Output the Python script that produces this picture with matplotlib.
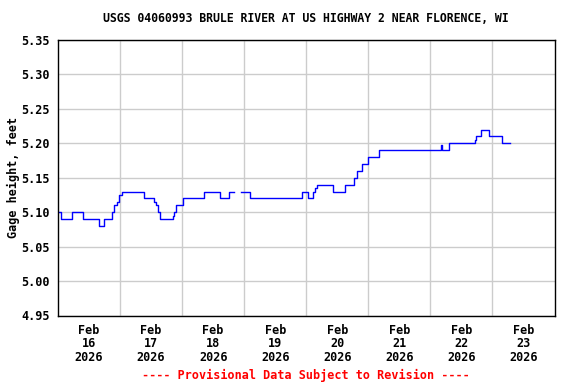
import numpy as np
import matplotlib.pyplot as plt

# hours since Feb 16 2026 00:00, value holds until next time
hours = [0.0, 1.2, 5.3, 9.5, 15.7, 17.9, 20.7, 21.8, 22.8, 23.6, 24.6,
         33.1, 37.3, 38.0, 38.6, 39.6, 44.4, 45.0, 45.7, 48.2,
         56.6, 62.8, 66.3, 68.2, 70.7, 74.4,
         94.4, 96.6, 98.5, 99.2, 100.0,
         106.3, 110.8, 114.4, 115.6, 117.5, 119.8, 124.3,
         148.2, 148.5, 151.2, 161.1, 161.8, 163.4, 166.5, 171.7, 174.7]
gage = [5.10, 5.09, 5.10, 5.09, 5.08, 5.09, 5.10, 5.11, 5.115, 5.125, 5.13,
        5.12, 5.115, 5.11, 5.10, 5.09, 5.095, 5.10, 5.11, 5.12,
        5.13, 5.12, 5.13, np.nan, 5.13, 5.12,
        5.13, 5.12, 5.13, 5.135, 5.14,
        5.13, 5.14, 5.15, 5.16, 5.17, 5.18, 5.19,
        5.197, 5.19, 5.20, 5.205, 5.21, 5.22, 5.21, 5.20, 5.20]

day_labels = ["Feb\n%d\n2026" % d for d in range(16, 24)]
yticks = [4.95, 5.00, 5.05, 5.10, 5.15, 5.20, 5.25, 5.30, 5.35]

mono = 'DejaVu Sans Mono'
fig = plt.figure(figsize=(5.76, 3.84), dpi=100)
ax = fig.add_axes([58/576, 1 - 315.5/384, 496.5/576, 275.5/384])

ax.plot(hours, gage, color='#0000ff', linewidth=1.0, drawstyle='steps-post')

ax.set_xlim(0, 192)
ax.set_ylim(4.95, 5.35)
ax.set_yticks(yticks)
ax.set_yticklabels(['%.2f' % v for v in yticks], family=mono,
                   fontweight='bold', fontsize=8.5)
ax.set_xticks(np.arange(12, 192, 24))
ax.set_xticklabels(day_labels, family=mono, fontweight='bold',
                   fontsize=8.5, linespacing=1.05)
ax.set_xticks(np.arange(24, 192, 24), minor=True)
ax.tick_params(axis='both', which='both', length=0, pad=6)
ax.grid(True, which='minor', axis='x', color='#cccccc', linewidth=1)
ax.grid(True, which='major', axis='y', color='#cccccc', linewidth=1)
ax.set_axisbelow(True)
for s in ax.spines.values():
    s.set_linewidth(1.0)

ax.set_ylabel('Gage height, feet', family=mono, fontweight='bold',
              fontsize=8.5, labelpad=1)
fig.text(306/576, 1 - 19/384, 'USGS 04060993 BRULE RIVER AT US HIGHWAY 2 NEAR FLORENCE, WI',
         ha='center', va='center', family=mono, fontweight='bold', fontsize=8.3)
fig.text(306/576, 1 - 375/384, '---- Provisional Data Subject to Revision ----',
         ha='center', va='center', family=mono, fontweight='bold',
         fontsize=8.5, color='red')

fig.savefig('out.png', dpi=100)
